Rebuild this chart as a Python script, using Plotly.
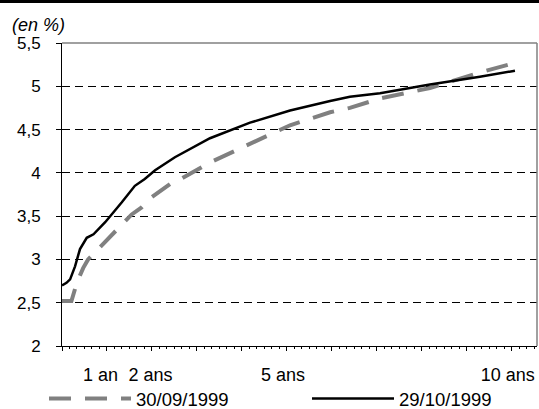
import plotly.graph_objects as go

# Yield curve, maturities in years
mat_sep = [0, 0.21, 0.33, 0.47, 0.58, 0.73, 0.99, 1.25, 1.55, 1.77, 2.0, 2.4, 2.51,
           3.29, 4.18, 5.07, 5.96, 6.4, 7.07, 8.18, 9.29, 10.07]
yld_sep = [2.52, 2.52, 2.73, 2.90, 3.00, 3.08, 3.23, 3.37, 3.52, 3.60, 3.72, 3.87, 3.89,
           4.12, 4.34, 4.55, 4.70, 4.75, 4.86, 4.98, 5.16, 5.27]

mat_oct = [0, 0.1, 0.18, 0.29, 0.4, 0.55, 0.7, 0.96, 1.33, 1.62, 1.84, 2.07, 2.51,
           3.29, 4.18, 5.07, 5.96, 6.4, 7.07, 8.18, 9.29, 10.07]
yld_oct = [2.70, 2.73, 2.77, 2.92, 3.12, 3.25, 3.29, 3.43, 3.66, 3.85, 3.93, 4.03, 4.18,
           4.40, 4.58, 4.72, 4.83, 4.88, 4.92, 5.02, 5.11, 5.18]

tick_years = [0, 1, 2, 3, 4, 5, 6, 7, 8, 9, 10]
NB = "\u00a0"
tick_text = ["", "1 an" + NB, NB + "2 ans", "", "", "5 ans", "", "", "", "", "10 ans"]

FONT = "Liberation Sans, Arial, sans-serif"

fig = go.Figure()
fig.add_trace(go.Scatter(
    x=mat_sep, y=yld_sep, mode="lines", name="30/09/1999",
    line=dict(color="#808080", width=4, dash="22px,14px"),
))
fig.add_trace(go.Scatter(
    x=mat_oct, y=yld_oct, mode="lines", name="29/10/1999",
    line=dict(color="#000000", width=2.5),
))

W, H = 539, 409
ml, mr, mt, mb = 62, 2, 43, 63
pw = W - ml - mr
ph = H - mt - mb

fig.update_layout(
    width=W, height=H,
    margin=dict(l=ml, r=mr, t=mt, b=mb, autoexpand=False),
    paper_bgcolor="white", plot_bgcolor="white",
    separators=", ",
    font=dict(family=FONT, size=17, color="black"),
    showlegend=True,
    legend=dict(
        orientation="h", x=(44 - ml) / pw, xanchor="left",
        y=-(380 - H + mb) / ph, yanchor="top",
        itemwidth=82, font=dict(size=18.5), bgcolor="rgba(0,0,0,0)",
        entrywidth=166,
    ),
    xaxis=dict(
        range=[0, 10.56], tickmode="array", tickvals=tick_years, ticktext=tick_text,
        tickangle=0,
        showgrid=False, zeroline=False,
        showline=True, linecolor="black", linewidth=1,
        ticks="outside", ticklen=4, tickcolor="black",
        minor=dict(dtick=1 / 6, ticks="outside", ticklen=2, tickcolor="black", showgrid=False),
        ticklabelstandoff=8, ticklabelshift=-4,
        tickfont=dict(size=18),
    ),
    yaxis=dict(
        range=[2, 5.5], dtick=0.5, tick0=2,
        showgrid=True, gridcolor="black", gridwidth=1, griddash="8px,5px",
        zeroline=False,
        showline=True, linecolor="black", linewidth=1,
        ticks="outside", ticklen=5, tickcolor="black",
        ticklabelstandoff=12, tickfont=dict(size=17),
    ),
)

# Grey frame on the top and right of the plot area
fig.add_shape(type="line", xref="paper", yref="paper", x0=0, x1=1, y0=1, y1=1,
              line=dict(color="#808080", width=1.5))
fig.add_shape(type="line", xref="paper", yref="paper", x0=1, x1=1, y0=0, y1=1,
              line=dict(color="#808080", width=1.5))

# Black rule across the top of the figure
top = 1 + mt / ph
fig.add_shape(type="rect", xref="paper", yref="paper",
              x0=-ml / pw, x1=1 + mr / pw,
              y0=top - 3 / ph, y1=top, line=dict(width=0), fillcolor="black")

fig.add_annotation(text="<i>(en %)</i>", xref="paper", yref="paper",
                   x=(10 - ml) / pw, y=1 + (mt - 25) / ph,
                   xanchor="left", yanchor="middle", showarrow=False,
                   font=dict(family=FONT, size=18, color="black"))

fig.write_html("out.html")
